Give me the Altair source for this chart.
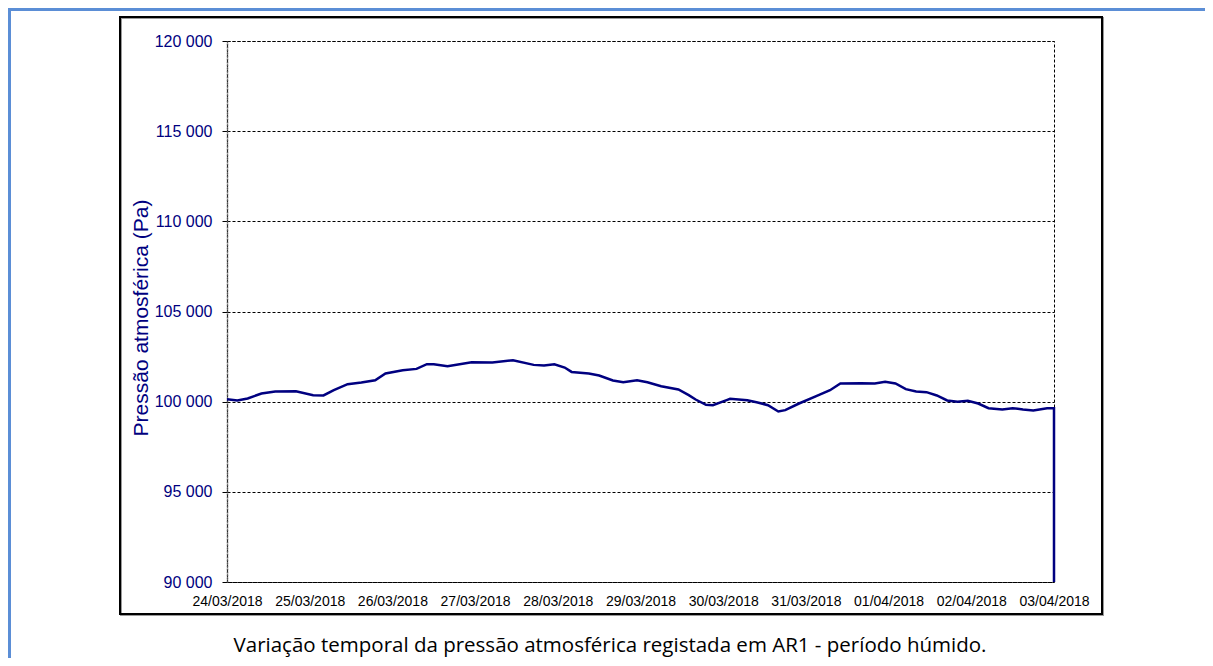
import altair as alt
import pandas as pd

# hours since 24/03/2018 00:00
hours = [0, 3, 6, 10, 14, 20, 25, 28, 31, 35, 39, 43, 46, 51, 55, 58, 60, 64, 71, 77,
         83, 89, 92, 95, 98, 100, 105, 108, 112, 115, 119, 122, 126, 131, 134, 136, 139,
         141, 145, 146, 151, 154, 157, 160, 162, 166, 171, 175, 178, 184, 188, 191, 194,
         197, 200, 203, 206, 209, 212, 215, 218, 221, 225, 228, 231, 234, 238, 240, 240]
pressure = [100138, 100066, 100177, 100454, 100565, 100581, 100360, 100343, 100637,
            100969, 101063, 101190, 101561, 101744, 101817, 102076, 102076, 101965,
            102187, 102170, 102298, 102040, 102004, 102076, 101893, 101650, 101561,
            101450, 101173, 101080, 101190, 101080, 100858, 100674, 100360, 100120,
            99823, 99806, 100083, 100157, 100083, 99954, 99806, 99457, 99530, 99898,
            100305, 100637, 101007, 101024, 101007, 101100, 101007, 100692, 100565,
            100526, 100343, 100066, 99990, 100044, 99898, 99640, 99567, 99640, 99567,
            99512, 99640, 99640, 90000]
date_labels = ["24/03/2018", "25/03/2018", "26/03/2018", "27/03/2018", "28/03/2018",
               "29/03/2018", "30/03/2018", "31/03/2018", "01/04/2018", "02/04/2018",
               "03/04/2018"]
y_ticks = [90000, 95000, 100000, 105000, 110000, 115000, 120000]
caption = "Variação temporal da pressão atmosférica registada em AR1 - período húmido."
y_title = "Pressão atmosférica (Pa)"

df = pd.DataFrame({"day": [h / 24 for h in hours], "p": pressure, "order": range(len(hours))})

label_arr = "[" + ",".join("'%s'" % d for d in date_labels) + "]"

FONT = "Liberation Sans"
NAVY = "#000080"

line = alt.Chart(df).mark_line(color=NAVY, strokeWidth=2.5, clip=False).encode(
    x=alt.X("day:Q", scale=alt.Scale(domain=[0, 10], nice=False),
            axis=alt.Axis(values=list(range(11)), labelExpr=label_arr + "[datum.value]",
                          title=None, grid=False, domain=False, ticks=False,
                          labelPadding=12, labelFont=FONT, labelFontSize=14,
                          labelColor="#000000", labelFlush=False)),
    y=alt.Y("p:Q", scale=alt.Scale(domain=[90000, 120000], nice=False),
            axis=alt.Axis(values=y_ticks,
                          labelExpr="replace(format(datum.value, ',d'), ',', ' ')",
                          title=y_title, titleFont=FONT, titleFontSize=21,
                          titleFontWeight="normal", titleColor=NAVY,
                          titleX=-86, titleY=276.5, titleAngle=270,
                          titleAlign="center", titleBaseline="middle",
                          labelFont=FONT, labelFontSize=16, labelColor=NAVY,
                          labelPadding=10, tickSize=5, tickColor="#000000",
                          domainColor="#555555", domainWidth=1.5, domainDash=[2, 1],
                          grid=True, gridColor="#000000", gridDash=[3, 2],
                          gridWidth=1, gridOpacity=1)),
    order="order:Q",
)

frame = alt.Chart(df).mark_rect(fill=None, stroke="#000000", strokeWidth=1.2, clip=False).encode(
    x=alt.value(-107), x2=alt.value(875), y=alt.value(-24), y2=alt.value(573))
frame_shadow = alt.Chart(df).mark_rect(fill=None, stroke="#999999", strokeWidth=1, clip=False).encode(
    x=alt.value(-106), x2=alt.value(876.5), y=alt.value(-23), y2=alt.value(574.5))

blue_top = alt.Chart(df).mark_rect(fill="#5B8ED6", clip=False).encode(
    x=alt.value(-219), x2=alt.value(978), y=alt.value(-33), y2=alt.value(-30))
blue_left = alt.Chart(df).mark_rect(fill="#5B8ED6", clip=False).encode(
    x=alt.value(-219), x2=alt.value(-216), y=alt.value(-33), y2=alt.value(617))

cap = alt.Chart(pd.DataFrame({"t": [caption]})).mark_text(
    font="Open Sans", fontSize=20.5, color="#000000", align="center", baseline="middle",
    clip=False).encode(text="t:N", x=alt.value(383), y=alt.value(605))

chart = alt.layer(blue_top, blue_left, frame_shadow, frame, line, cap).properties(
    width=827, height=541,
    autosize=alt.AutoSizeParams(type="none"),
    padding={"left": 219, "top": 33, "right": 151, "bottom": 76},
).configure_view(stroke="#000000", strokeDash=[3, 2], strokeWidth=1)

chart.save("out.html", embed_options={"renderer": "svg", "actions": False})
